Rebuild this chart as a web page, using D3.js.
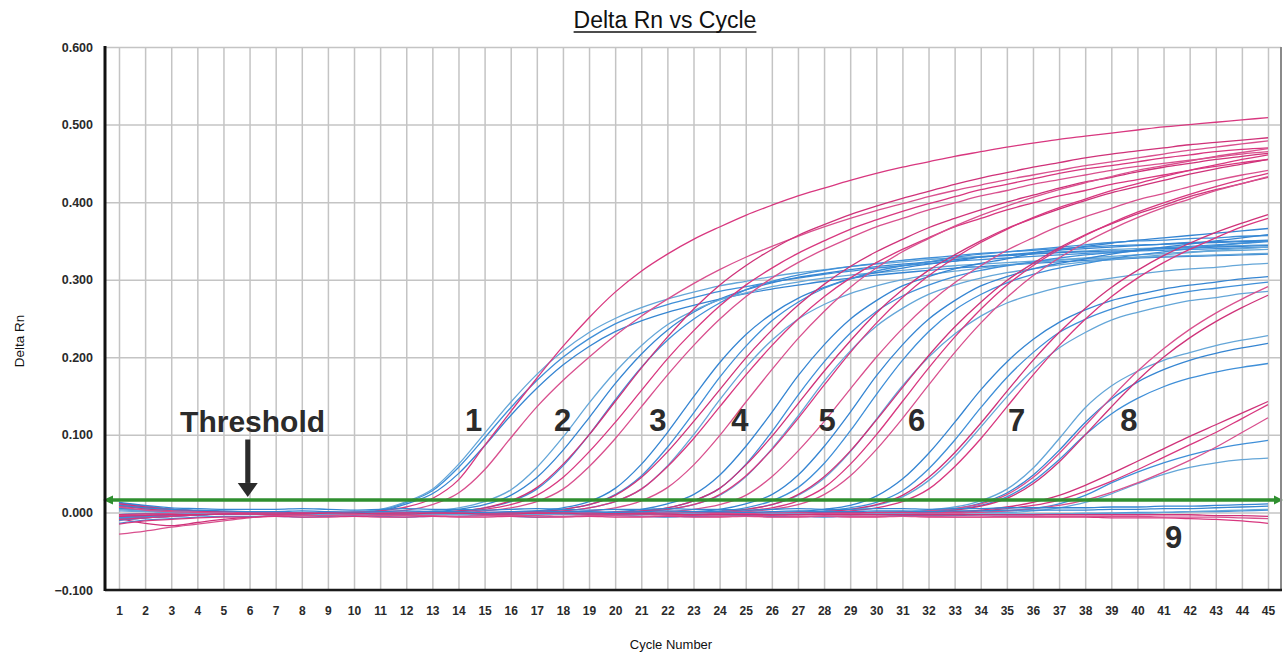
<!DOCTYPE html>
<html>
<head>
<meta charset="utf-8">
<script src="https://cdn.jsdelivr.net/npm/d3@7"></script>
<style>
  body { margin: 0; background: #ffffff; }
  svg { display: block; }
</style>
</head>
<body>
<svg id="chart" width="1284" height="653"></svg>
<script>
// ---- Data -----------------------------------------------------------------
// Amplification curves, Delta Rn x 1000, one value per cycle (cycles 1..45).
// Groups 1-8 are a dilution series, group 9 shows no amplification.
const cycles = d3.range(1, 46);
const yTickValues = [-0.1, 0, 0.1, 0.2, 0.3, 0.4, 0.5, 0.6];
const thresholdValue = 0.016;

const group1Blue = [
  [10,6,3,1,0,0,-1,-1,0,0,3,13,28,58,96,135,170,200,224,243,257,268,277,285,291,297,302,307,311,315,318,321,324,326,328,330,332,334,335,337,338,339,340,341,342],
  [-10,-7,-5,-3,-2,-1,-1,0,0,1,4,14,30,62,102,142,178,208,232,250,264,275,284,292,298,304,309,313,317,320,323,326,328,330,332,334,336,337,339,340,341,342,343,344,345],
  [5,2,0,-1,-1,-1,-1,-2,-1,0,2,11,24,50,86,125,160,190,214,233,247,258,267,275,282,288,293,298,302,306,309,312,315,317,319,321,323,325,326,328,329,330,331,332,333]
];
const group1Pink = [
  [12,8,4,2,1,0,0,-1,0,0,2,7,18,42,86,130,173,214,251,284,311,333,352,368,383,396,408,418,428,437,445,452,459,465,471,476,481,485,489,493,497,500,503,506,509],
  [-28,-24,-19,-15,-11,-7,-4,-2,-1,0,1,3,10,25,55,96,136,170,200,228,253,275,295,313,329,343,356,368,379,389,398,407,415,422,429,435,441,447,452,457,462,467,471,475,479]
];
const group2Blue = [
  [-6,-4,-3,-2,-2,-1,-1,-1,-2,-1,-1,0,1,4,10,22,45,80,122,166,204,235,258,275,287,296,303,308,313,317,320,323,326,329,331,333,335,336,337,338,340,341,342,343,344],
  [-3,-2,-2,-2,-1,-1,-1,-2,-2,-1,-1,-1,0,2,6,14,30,60,100,145,187,222,249,270,287,298,306,312,317,321,325,328,331,334,336,338,340,342,344,345,346,348,349,350,351],
  [8,5,2,1,0,-1,-1,-1,-1,-2,-1,0,2,6,14,29,58,97,141,181,215,242,260,274,283,291,297,302,306,309,312,315,318,320,322,324,326,327,328,329,330,331,332,333,334]
];
const group2Pink = [
  [-8,-14,-17,-13,-9,-6,-4,-2,-1,-1,0,0,0,2,6,15,32,62,100,143,186,226,262,293,318,339,357,371,384,395,405,414,423,431,438,445,451,457,462,466,470,474,477,480,483],
  [5,2,0,-1,-1,-1,-2,-2,-1,-1,-2,-1,0,1,4,10,22,45,78,116,157,198,234,266,293,315,334,350,365,377,388,398,407,416,423,430,437,443,447,452,457,461,465,468,470],
  [-10,-7,-5,-3,-2,-1,-1,-1,-2,-1,-1,-1,0,0,2,6,14,30,59,95,136,177,215,249,278,302,322,339,354,368,379,390,399,408,415,423,429,435,441,446,450,454,458,462,465]
];
const group3Blue = [
  [12,8,4,2,1,0,0,-1,-1,-2,-1,-1,-2,-1,-1,0,2,6,14,31,62,103,149,193,229,256,276,290,301,309,315,320,324,329,332,335,338,340,342,344,346,347,348,349,350],
  [-6,-4,-3,-2,-2,-1,-1,-2,-2,-1,-1,-2,-2,-1,-1,0,1,4,10,23,47,84,128,174,214,247,271,289,301,311,318,323,329,333,336,339,342,345,348,350,351,353,354,356,357],
  [-3,-2,-2,-2,-1,-1,-1,-1,-2,-2,-1,-1,-2,-2,-1,-1,0,2,6,14,30,60,100,145,187,222,249,268,282,292,300,306,311,315,319,322,325,328,330,332,334,336,337,338,339]
];
const group3Pink = [
  [10,6,3,1,0,0,-1,-1,-2,-1,-1,-2,-1,-1,0,0,1,4,10,22,45,78,117,158,199,235,267,294,317,336,352,367,379,390,400,409,418,426,432,439,445,450,455,459,463],
  [-5,-4,-3,-3,-2,-2,-1,-1,-2,-2,-2,-1,-1,-2,-1,-1,0,2,6,14,30,59,95,136,177,215,249,278,302,322,339,354,368,379,390,399,408,415,423,429,435,441,446,451,455],
  [9,6,3,1,0,-1,-1,-2,-2,-1,-1,-1,-2,-2,-1,-1,-1,0,2,6,15,32,61,99,142,184,224,259,290,315,336,353,369,383,395,406,416,425,433,441,447,453,459,464,469]
];
const group4Blue = [
  [-10,-7,-5,-3,-2,-1,-1,-1,-2,-2,-1,-1,-2,-2,-1,-1,-2,-1,0,1,4,11,23,48,85,129,176,216,249,273,292,304,314,321,327,334,339,343,347,351,354,357,360,363,366],
  [5,2,0,-1,-1,-1,-2,-1,-1,-2,-2,-1,-1,-2,-2,-1,-1,-1,-1,0,2,6,15,31,62,104,151,194,231,259,279,293,304,312,318,323,328,332,335,338,341,343,345,347,349],
  [-3,-2,-2,-2,-1,-1,-1,-2,-2,-1,-1,-1,-2,-2,-2,-1,-1,-2,-1,0,1,4,10,22,46,82,124,169,208,240,263,281,293,302,309,314,319,323,326,329,332,335,338,340,342]
];
const group4Pink = [
  [10,6,3,1,0,0,-1,-1,-2,-2,-1,-1,-2,-2,-1,-1,-1,-2,-1,0,2,6,15,31,61,98,140,182,221,257,287,312,332,350,366,379,391,402,412,420,428,436,443,449,455],
  [12,8,4,2,1,0,0,-1,-1,-2,-2,-1,-1,-2,-2,-1,-1,-1,-1,0,1,4,10,23,47,81,121,164,206,244,277,305,328,348,365,380,393,404,415,424,433,441,448,455,461],
  [-6,-4,-3,-2,-2,-1,-1,-1,-2,-2,-1,-1,-1,-2,-2,-1,-1,-2,-1,-1,0,1,4,10,22,46,79,117,159,200,237,269,296,318,338,354,369,381,392,403,411,420,428,435,441]
];
const group5Blue = [
  [6,3,1,0,-1,-1,-1,-2,-2,-1,-1,-2,-2,-1,-1,-2,-2,-1,-1,-1,-1,0,1,4,11,23,48,85,129,176,216,249,273,292,304,314,321,327,333,338,342,346,350,354,358],
  [-9,-6,-4,-3,-2,-1,-1,-1,-2,-2,-1,-1,-2,-2,-2,-1,-1,-2,-2,-1,-1,-1,0,2,6,15,32,63,105,152,196,233,261,281,296,307,315,321,327,332,336,340,344,347,350],
  [-3,-2,-2,-2,-1,-1,-1,-2,-2,-1,-1,-2,-2,-1,-1,-2,-2,-2,-1,-1,-1,-1,0,1,4,10,22,44,78,120,163,200,230,253,270,281,290,297,302,307,311,314,316,319,321]
];
const group5Pink = [
  [9,5,2,1,0,0,-1,-1,-2,-2,-1,-1,-2,-2,-1,-1,-2,-2,-1,-1,-1,-1,0,1,4,10,23,46,79,119,161,202,239,271,299,321,341,358,372,385,396,407,416,424,432],
  [-5,-4,-3,-2,-2,-1,-1,-1,-2,-2,-1,-1,-2,-2,-2,-1,-1,-2,-2,-1,-1,-1,-1,0,2,6,15,32,62,100,143,186,226,262,293,318,339,357,373,387,399,410,420,429,437],
  [11,7,4,2,1,0,0,-1,-1,-2,-2,-1,-1,-2,-2,-1,-1,-2,-2,-1,-1,-1,-1,0,1,4,10,23,47,81,121,164,206,244,277,305,328,348,365,380,393,404,415,424,433]
];
const group6Blue = [
  [4,2,0,-1,-1,-1,-1,-2,-2,-1,-1,-2,-2,-1,-1,-2,-2,-1,-1,-2,-2,-1,-1,-2,-2,0,1,4,9,21,43,76,116,158,194,223,245,261,273,281,288,293,297,301,304],
  [-8,-6,-4,-3,-2,-1,-1,-1,-2,-2,-1,-1,-2,-2,-1,-1,-2,-2,-1,-1,-2,-2,-1,-1,-1,-1,0,2,6,13,28,56,93,135,174,206,232,249,262,272,279,285,289,293,297],
  [-3,-3,-2,-2,-1,-1,-1,-2,-2,-1,-1,-2,-2,-2,-1,-1,-2,-2,-1,-1,-2,-2,-1,-1,-1,0,0,1,4,9,20,41,72,110,149,184,212,232,248,258,266,273,277,282,285]
];
const group6Pink = [
  [8,5,2,1,0,0,-1,-1,-2,-2,-1,-1,-2,-2,-1,-1,-2,-2,-2,-1,-1,-2,-2,-1,-1,-1,0,1,4,10,22,45,77,115,156,196,232,263,290,312,331,347,361,373,384],
  [-6,-5,-3,-2,-2,-1,-1,-1,-2,-2,-1,-1,-2,-2,-1,-1,-2,-2,-2,-1,-1,-2,-2,-1,-1,-1,-1,0,2,6,14,30,59,95,136,177,215,249,278,302,322,339,354,368,379]
];
const group7Blue = [
  [10,7,4,2,1,0,0,-1,-1,-2,-2,-1,-1,-2,-2,-1,-1,-2,-2,-1,-1,-2,-2,-1,-1,-2,-1,-1,0,0,1,3,7,15,30,57,95,135,163,182,196,206,215,222,228],
  [5,3,1,0,-1,-1,-1,-2,-2,-1,-1,-2,-2,-1,-1,-2,-2,-1,-1,-2,-2,-1,-1,-2,-2,-1,-1,-1,-1,0,0,2,5,12,25,48,80,116,146,168,184,196,205,212,218],
  [-7,-5,-4,-3,-2,-1,-1,-2,-2,-1,-1,-2,-2,-1,-1,-2,-2,-1,-1,-2,-2,-1,-1,-2,-2,-1,-1,-1,-1,0,0,1,4,9,20,40,68,100,127,147,162,173,181,187,192]
];
const group7Pink = [
  [9,6,3,1,0,0,-1,-1,-2,-2,-1,-1,-2,-2,-1,-1,-2,-2,-1,-1,-2,-2,-1,-1,-2,-2,-1,-1,-1,0,0,2,5,11,23,45,76,112,148,182,211,236,257,275,291],
  [-3,-2,-2,-2,-1,-1,-1,-2,-2,-1,-1,-2,-2,-1,-1,-2,-2,-1,-1,-2,-2,-1,-1,-2,-2,-1,-1,-2,-1,-1,0,0,3,8,18,37,65,100,136,170,200,225,246,264,280]
];
const group8Blue = [
  [-6,-4,-3,-2,-2,-1,-1,-1,-2,-2,-1,-1,-2,-2,-1,-1,-2,-2,-1,-1,-2,-2,-1,-1,-2,-2,-1,-1,-2,-1,-1,-1,0,0,2,5,11,22,38,52,64,74,82,88,93],
  [4,2,1,0,-1,-1,-1,-2,-2,-1,-1,-2,-2,-1,-1,-2,-2,-1,-1,-2,-2,-1,-1,-2,-2,-1,-1,-2,-2,-1,-1,-1,-1,0,0,2,6,13,24,37,49,58,64,68,70]
];
const group8Pink = [
  [11,7,4,2,1,0,0,-1,-1,-2,-2,-1,-1,-2,-2,-1,-1,-2,-2,-1,-1,-2,-2,-1,-1,-2,-1,-1,-1,0,0,0,1,3,7,13,22,35,50,66,82,98,113,128,143],
  [-9,-7,-5,-3,-2,-1,-1,-1,-2,-2,-1,-1,-2,-2,-1,-1,-2,-2,-1,-1,-2,-2,-1,-1,-2,-2,-1,-1,-1,-1,-1,0,0,2,5,9,16,27,40,55,71,87,103,121,139],
  [-4,-3,-2,-2,-1,-1,-1,-2,-2,-1,-1,-2,-2,-1,-1,-2,-2,-1,-1,-2,-2,-1,-1,-2,-2,-1,-1,-2,-2,-1,-1,-1,-1,0,2,5,9,16,26,38,52,67,84,103,122]
];
const group9Blue = [
  [13,9,6,5,4,4,4,5,4,3,4,5,4,4,3,4,5,4,3,4,4,5,4,4,3,4,5,4,4,5,5,4,5,5,6,6,6,6,7,7,8,8,9,10,11],
  [-14,-10,-8,-6,-5,-5,-5,-6,-5,-4,-5,-6,-5,-5,-4,-5,-6,-5,-5,-4,-5,-6,-5,-5,-4,-5,-5,-6,-5,-5,-4,-4,-4,-3,-3,-3,-2,-2,-1,0,0,1,1,2,3],
  [2,1,0,-1,-1,-2,-2,-3,-2,-2,-3,-2,-2,-3,-2,-2,-3,-2,-2,-3,-3,-2,-2,-3,-3,-2,-2,-3,-3,-2,-2,-3,-3,-2,-2,-2,-2,-1,-1,-1,0,1,2,3,4],
  [9,6,4,3,2,1,1,2,1,0,1,2,1,1,0,1,2,1,1,0,1,2,1,1,0,1,2,1,1,2,2,1,2,2,3,3,3,3,4,4,5,5,6,7,8]
];
const group9Pink = [
  [-15,-11,-9,-7,-6,-6,-5,-6,-6,-5,-6,-6,-5,-6,-6,-5,-6,-6,-5,-6,-6,-5,-6,-6,-5,-6,-6,-5,-6,-6,-5,-6,-6,-6,-6,-6,-6,-6,-7,-7,-7,-8,-9,-11,-14],
  [7,3,1,0,-1,-2,-3,-4,-4,-3,-4,-4,-4,-5,-4,-4,-4,-5,-4,-4,-5,-4,-4,-5,-5,-4,-5,-5,-5,-5,-5,-5,-6,-6,-5,-5,-5,-5,-5,-5,-6,-6,-6,-7,-8],
  [-5,-4,-3,-3,-2,-2,-2,-2,-1,-1,-2,-2,-1,-1,-2,-2,-1,-1,-2,-2,-2,-2,-3,-3,-3,-3,-3,-3,-3,-3,-3,-3,-3,-3,-3,-3,-3,-3,-3,-3,-3,-3,-4,-4,-5]
];

// Group labels and where they sit (cycle, Delta Rn)
const groupNames = ["1", "2", "3", "4", "5", "6", "7", "8", "9"];
const groupLabelCycle = [14.58, 17.99, 21.64, 24.78, 28.12, 31.54, 35.37, 39.67, 41.39];
const groupLabelValue = [0.105, 0.105, 0.105, 0.105, 0.105, 0.105, 0.105, 0.105, -0.046];

// ---- Layout ---------------------------------------------------------------
const svg = d3.select("#chart");
const plot = { left: 105, right: 1281, top: 47, bottom: 590 };
const font = "'Liberation Sans', Arial, Helvetica, sans-serif";

const x = d3.scaleLinear().domain([1, 45]).range([119, 1268]);
const y = d3.scaleLinear().domain([-0.1, 0.6]).range([plot.bottom, plot.top]);

svg.append("rect").attr("width", 1284).attr("height", 653).attr("fill", "#ffffff");

// Grid: one vertical line per cycle, one horizontal line per 0.1
svg.append("g")
  .attr("transform", `translate(0,${plot.bottom})`)
  .call(d3.axisBottom(x).tickValues(cycles).tickSize(-(plot.bottom - plot.top)).tickFormat(""))
  .call(g => g.select(".domain").remove())
  .call(g => g.selectAll("line").attr("stroke", "#c4c4c4").attr("stroke-width", 1.5));

svg.append("g")
  .attr("transform", `translate(${plot.left},0)`)
  .call(d3.axisLeft(y).tickValues(yTickValues).tickSize(-(plot.right - plot.left)).tickFormat(""))
  .call(g => g.select(".domain").remove())
  .call(g => g.selectAll("line").attr("stroke", "#c4c4c4").attr("stroke-width", 1.5));

// Tick labels
svg.append("g")
  .attr("transform", `translate(${plot.left},0)`)
  .call(d3.axisLeft(y).tickValues(yTickValues).tickFormat(d3.format(".3f")).tickSize(0).tickPadding(12))
  .call(g => g.select(".domain").remove())
  .call(g => g.selectAll("text")
    .attr("font-family", font).attr("font-size", 12.5).attr("font-weight", "bold").attr("fill", "#2a2a2a"));

svg.append("g")
  .attr("transform", `translate(0,${plot.bottom})`)
  .call(d3.axisBottom(x).tickValues(cycles).tickFormat(d3.format("d")).tickSize(0).tickPadding(16))
  .call(g => g.select(".domain").remove())
  .call(g => g.selectAll("text")
    .attr("font-family", font).attr("font-size", 12).attr("font-weight", "bold").attr("fill", "#2a2a2a"));

// ---- Curves ---------------------------------------------------------------
const blueGroups = [group1Blue, group2Blue, group3Blue, group4Blue, group5Blue, group6Blue, group7Blue, group8Blue, group9Blue];
const pinkGroups = [group1Pink, group2Pink, group3Pink, group4Pink, group5Pink, group6Pink, group7Pink, group8Pink, group9Pink];

const series = [];
blueGroups.forEach((grp, gi) => {
  grp.forEach(values => series.push({ dye: "blue", group: gi, values }));
  pinkGroups[gi].forEach(values => series.push({ dye: "pink", group: gi, values }));
});

const blueShades = ["#3f8fd8", "#64a6d8", "#3585d2"];
const pinkShades = ["#d8377f", "#d9508e", "#cf3279"];

svg.append("clipPath").attr("id", "plot-clip")
  .append("rect")
  .attr("x", plot.left).attr("y", plot.top)
  .attr("width", plot.right - plot.left).attr("height", plot.bottom - plot.top);

const line = d3.line()
  .x((d, i) => x(cycles[i]))
  .y(d => y(d / 1000))
  .curve(d3.curveMonotoneX);

svg.append("g")
  .attr("clip-path", "url(#plot-clip)")
  .selectAll("path")
  .data(series)
  .join("path")
  .attr("d", d => line(d.values))
  .attr("fill", "none")
  .attr("stroke", (d, i) => d.dye === "blue" ? blueShades[i % 3] : pinkShades[i % 3])
  .attr("stroke-width", 1.3)
  .attr("stroke-linejoin", "round");

// ---- Threshold line ------------------------------------------------------
const ty = y(thresholdValue);
const green = "#2f8f2f";
svg.append("line")
  .attr("x1", plot.left + 4).attr("x2", plot.right - 3)
  .attr("y1", ty).attr("y2", ty)
  .attr("stroke", green).attr("stroke-width", 3.5);
svg.append("path")
  .attr("d", `M${plot.left - 2},${ty} L${plot.left + 8},${ty - 4.5} L${plot.left + 8},${ty + 4.5} Z`)
  .attr("fill", green);
svg.append("path")
  .attr("d", `M${plot.right + 2},${ty} L${plot.right - 7},${ty - 4.5} L${plot.right - 7},${ty + 4.5} Z`)
  .attr("fill", green);

// ---- Frame ---------------------------------------------------------------
svg.append("line")
  .attr("x1", plot.right).attr("x2", plot.right)
  .attr("y1", plot.top).attr("y2", plot.bottom)
  .attr("stroke", "#8a8a8a").attr("stroke-width", 2);
svg.append("line")
  .attr("x1", plot.left).attr("x2", plot.right + 1)
  .attr("y1", plot.bottom).attr("y2", plot.bottom)
  .attr("stroke", "#1a1a1a").attr("stroke-width", 2.5);
svg.append("line")
  .attr("x1", plot.left).attr("x2", plot.left)
  .attr("y1", plot.top - 1).attr("y2", plot.bottom + 1)
  .attr("stroke", "#111111").attr("stroke-width", 3);

// ---- Annotations ---------------------------------------------------------
const annotation = svg.append("g")
  .attr("font-family", font).attr("font-weight", "bold").attr("fill", "#2b2b2b");

annotation.selectAll("text.group")
  .data(groupNames)
  .join("text")
  .attr("class", "group")
  .attr("x", (d, i) => x(groupLabelCycle[i]))
  .attr("y", (d, i) => y(groupLabelValue[i]))
  .attr("text-anchor", "middle")
  .attr("font-size", 31)
  .text(d => d);

annotation.append("text")
  .attr("x", x(3.34)).attr("y", y(0.104))
  .attr("font-size", 30)
  .text("Threshold");

// Arrow pointing down at the threshold line
const ax = x(5.93);
annotation.append("rect")
  .attr("x", ax - 2.5).attr("y", y(0.094))
  .attr("width", 5).attr("height", y(0.038) - y(0.094))
  .attr("fill", "#2b2b2b");
annotation.append("path")
  .attr("d", `M${ax - 10},${y(0.038)} L${ax + 10},${y(0.038)} L${ax},${ty - 3} Z`)
  .attr("fill", "#2b2b2b");

// ---- Titles ----------------------------------------------------------------
const title = svg.append("text")
  .attr("x", 665).attr("y", 28)
  .attr("text-anchor", "middle")
  .attr("font-family", font).attr("font-size", 23).attr("fill", "#111111")
  .text("Delta Rn vs Cycle");
const tw = title.node().getComputedTextLength();
svg.append("line")
  .attr("x1", 665 - tw / 2).attr("x2", 665 + tw / 2)
  .attr("y1", 32).attr("y2", 32)
  .attr("stroke", "#111111").attr("stroke-width", 1.5);

svg.append("text")
  .attr("transform", "translate(24,341) rotate(-90)")
  .attr("text-anchor", "middle")
  .attr("font-family", font).attr("font-size", 13.5).attr("fill", "#111111")
  .text("Delta Rn");

svg.append("text")
  .attr("x", 671).attr("y", 649)
  .attr("text-anchor", "middle")
  .attr("font-family", font).attr("font-size", 13).attr("fill", "#111111")
  .text("Cycle Number");
</script>
</body>
</html>
